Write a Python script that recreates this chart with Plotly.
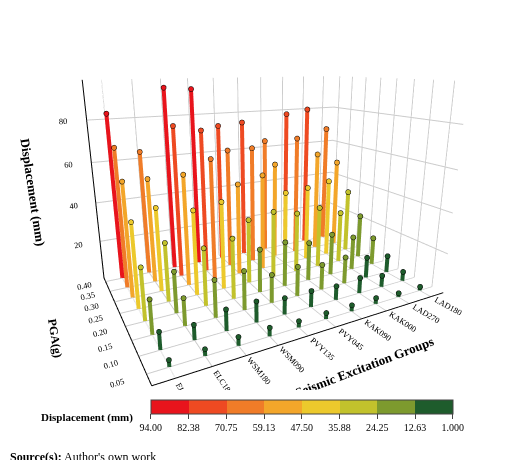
import plotly.graph_objects as go

groups = ["ELC270", "ELC180", "WSM180", "WSM090", "PVY135", "PVY045", "KAK090", "KAK000", "LAD270", "LAD180"]
pga = [0.05, 0.10, 0.15, 0.20, 0.25, 0.30, 0.35, 0.40]
disp = [
    [3, 8, 16, 25, 41, 56, 69, 83],
    [3, 7, 13, 20, 29, 42, 53, 64],
    [4, 10, 18, 28, 42, 56, 77, 94],
    [4, 10, 19, 30, 44, 62, 74, 93],
    [3, 8, 14, 22, 33, 48, 63, 74],
    [3, 8, 15, 23, 35, 51, 63, 75],
    [3, 7, 13, 20, 32, 40, 53, 64],
    [3, 8, 14, 22, 33, 41, 66, 78],
    [2, 6, 11, 18, 28, 43, 56, 80],
    [2, 5, 9, 15, 24, 35, 50, 68],
]
cbar_ticks = [94.00, 82.38, 70.75, 59.13, 47.50, 35.88, 24.25, 12.63, 1.000]
cbar_labels = ["94.00", "82.38", "70.75", "59.13", "47.50", "35.88", "24.25", "12.63", "1.000"]
bin_colors = ["#e8141c", "#ee4a22", "#f07c28", "#f3a62a", "#ecc92c", "#c2c22c", "#7d9a2e", "#1e5c2c"]

# stepped colorscale on negated values so 94 sits on the left
n = len(bin_colors)
cscale = []
for i, c in enumerate(bin_colors):
    cscale.append([i / n, c])
    cscale.append([(i + 1) / n, c])


def bar_color(v):
    for i in range(n):
        if v >= cbar_ticks[i + 1]:
            return bin_colors[i]
    return bin_colors[-1]


font = dict(family="Liberation Serif", color="black")
fig = go.Figure()
for gi, g in enumerate(groups):
    for pi, p in enumerate(pga):
        v = disp[gi][pi]
        col = bar_color(v)
        fig.add_trace(go.Scatter3d(
            x=[gi, gi], y=[p, p], z=[0, v], mode="lines",
            line=dict(width=8, color=col), hoverinfo="skip", showlegend=False))

# caps + colour bar
fig.add_trace(go.Scatter3d(
    x=[gi for gi in range(len(groups)) for p in pga],
    y=[p for gi in range(len(groups)) for p in pga],
    z=[disp[gi][pi] for gi in range(len(groups)) for pi in range(len(pga))],
    mode="markers",
    marker=dict(size=3, color=[-disp[gi][pi] for gi in range(len(groups)) for pi in range(len(pga))],
                colorscale=cscale, cmin=-94, cmax=-1, line=dict(width=1, color="black"),
                showscale=True,
                colorbar=dict(orientation="h", x=0.565, y=0.11, yanchor="middle", len=0.62, thickness=14,
                              tickvals=[-t for t in cbar_ticks], ticktext=cbar_labels,
                              tickfont=dict(size=10, family="Liberation Serif"),
                              outlinewidth=1, ticks="outside")),
    hoverinfo="skip", showlegend=False))

axis_common = dict(showbackground=True, backgroundcolor="white", gridcolor="#cccccc",
                   linecolor="black", linewidth=2, tickfont=dict(size=10, **font), showspikes=False)
fig.update_layout(
    width=520, height=460, margin=dict(l=0, r=0, t=0, b=0),
    paper_bgcolor="white", font=font,
    scene=dict(
        domain=dict(x=[0, 1], y=[0.17, 1]),
        xaxis=dict(title=dict(text="<b>Seismic Excitation Groups</b>", font=dict(size=13, **font)),
                   tickvals=list(range(len(groups))), ticktext=groups, range=[-0.6, 9.6], **axis_common),
        yaxis=dict(title=dict(text="<b>PGA(g)</b>", font=dict(size=12, **font)),
                   tickvals=pga, ticktext=["%.2f" % p for p in pga], range=[0.02, 0.42], **axis_common),
        zaxis=dict(title=dict(text="<b>Displacement (mm)</b>", font=dict(size=13, **font)),
                   tickvals=[20, 40, 60, 80], range=[0, 98], **axis_common),
        aspectmode="manual", aspectratio=dict(x=1.5, y=1.0, z=1.05),
        camera=dict(eye=dict(x=-1.05, y=-1.95, z=0.6), center=dict(x=0, y=0, z=-0.05)),
    ),
    annotations=[
        dict(text="<b>Displacement (mm)</b>", x=0.245, y=0.11, xref="paper", yref="paper",
             xanchor="right", yanchor="middle", showarrow=False, font=dict(size=11, **font)),
        dict(text="<b>Source(s):</b> Author's own work", x=0.0, y=0.005, xref="paper", yref="paper",
             xanchor="left", yanchor="bottom", showarrow=False, font=dict(size=12, **font)),
    ],
)
fig.write_html("out.html")
